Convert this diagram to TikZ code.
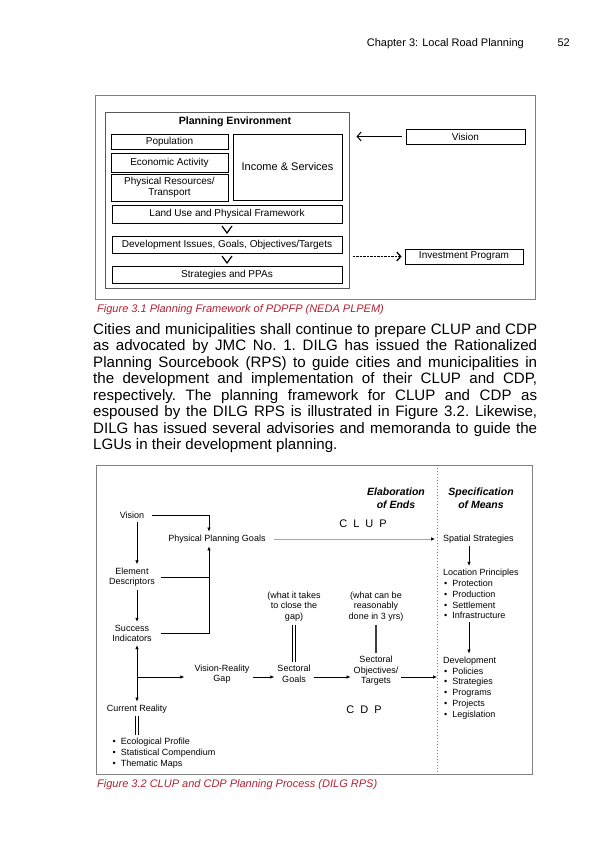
\documentclass[tikz,border=0pt]{standalone}
\usepackage{fontspec}
\setmainfont{Liberation Sans}
\usetikzlibrary{positioning,arrows.meta,calc}
\definecolor{capred}{RGB}{178,34,52}
\definecolor{framegray}{RGB}{128,128,128}
\newcommand{\fsize}[2]{\fontsize{#1pt}{#2pt}\selectfont}
\newcommand{\bul}{\hspace*{1pt}\textbullet\hspace*{5pt}}

\begin{document}
\begin{tikzpicture}[
    x=1pt, y=-1pt,
    every node/.style={inner sep=3pt},
    pbox/.style={
        rectangle, draw, line width=0.8pt, align=center,
        font=\fsize{10}{10.5}
    },
    flow/.style={font=\fsize{9}{10.6}, align=center},
    list/.style={font=\fsize{9}{10.8}, align=left, anchor=west},
    colhead/.style={font=\fsize{10.5}{13}\bfseries\itshape, align=center},
    spaced/.style={font=\fsize{11}{13}},
    arr/.style={-{Latex[length=4pt,width=3.5pt]}, line width=0.7pt},
    barb/.style={-{Straight Barb[length=4pt,width=9pt]}, line width=1pt},
    twin/.style={double, double distance=1.8pt, line width=0.7pt},
    figcap/.style={font=\fsize{11}{13}\itshape, text=capred, anchor=base west, inner sep=0}
]
\useasboundingbox (0,0) rectangle (600,850);
\fill[white] (0,0) rectangle (600,850);

% ── Running head ───────────────────────────────────────────
\node[anchor=base east, inner sep=0, font=\fsize{11}{13}] (chap) at (524,47) {Chapter 3: Local Road Planning};
\node[anchor=base east, inner sep=0, font=\fsize{11}{13}] (pnum) at (570,47) {52};

% ── Figure 3.1: planning framework ─────────────────────────
\node[draw=framegray, line width=0.8pt, minimum width=440pt, minimum height=204pt, inner sep=0] (fig1) at (315,197) {};
\node[draw=black!65, line width=1pt, minimum width=244pt, minimum height=175pt, inner sep=0] (envbox) at (227,200.5) {};
\node[font=\fsize{10.6}{12}\bfseries] (envtitle) at (235,122) {Planning Environment};

\node[pbox, minimum width=117pt, minimum height=14pt] (pop)     at (169.5,142)   {Population};
\node[pbox, minimum width=117pt, minimum height=19pt] (econ)    at (169.5,162.5) {Economic Activity};
\node[pbox, minimum width=117pt, minimum height=27pt] (physres) at (169.5,187.5) {Physical Resources/\\Transport};
\node[pbox, minimum width=109pt, minimum height=66pt, font=\fsize{11}{12}] (income) at (287.5,167) {Income \& Services};
\node[pbox, minimum width=230pt, minimum height=18pt] (landuse)   at (227,214)   {Land Use and Physical Framework};
\node[pbox, minimum width=230pt, minimum height=17pt] (devissues) at (227,244.5) {Development Issues, Goals, Objectives/Targets};
\node[pbox, minimum width=230pt, minimum height=17pt] (strat)     at (227,274.5) {Strategies and PPAs};

\node[pbox, minimum width=119pt, minimum height=15pt] (pvision) at (465.5,136.5) {Vision};
\node[pbox, minimum width=118pt, minimum height=15pt] (invest)  at (464,256.5)   {Investment Program};

% chevrons between the stacked boxes
\draw[line width=1.2pt] ($(landuse.south)!0.5!(devissues.north)$) ++(-5,-3.5) -- ++(5,7) -- ++(5,-7);
\draw[line width=1.2pt] ($(devissues.south)!0.5!(strat.north)$) ++(-5,-3.5) -- ++(5,7) -- ++(5,-7);

\draw[barb, shorten <=4pt, shorten >=7pt] (pvision.west) -- (pvision.west -| envbox.east);
\draw[barb, line width=1.3pt, dash pattern=on 2.5pt off 1pt, shorten <=3pt, shorten >=3pt] (invest.west -| envbox.east) -- (invest.west);

\node[figcap] (cap1) at (97,312) {Figure 3.1 Planning Framework of PDPFP (NEDA PLPEM)};

% ── Body text ──────────────────────────────────────────────
\node[anchor=base west, inner sep=0, text width=444pt, align=justify, font=\fsize{15.1}{16.43}\frenchspacing] (body) at (93,334.5) {%
Cities and municipalities shall continue to prepare CLUP and CDP\linebreak
as advocated by JMC No. 1. DILG has issued the Rationalized\linebreak
Planning Sourcebook (RPS) to guide cities and municipalities in\linebreak
the development and implementation of their CLUP and CDP,\linebreak
respectively. The planning framework for CLUP and CDP as\linebreak
espoused by the DILG RPS is illustrated in Figure 3.2. Likewise,\linebreak
DILG has issued several advisories and memoranda to guide the\linebreak
LGUs in their development planning.};

% ── Figure 3.2: CLUP and CDP process ───────────────────────
\def\xdiv{437}   % ends / means divider
\def\xcol{209}   % joint into Physical Planning Goals
\def\xmean{469}  % arrows in the means column
\def\yrow{677}   % CDP chain

\node[draw=framegray, line width=1pt, minimum width=436pt, minimum height=309pt, inner sep=0] (fig2) at (314,619.5) {};
\draw[gray, line width=0.6pt, dash pattern=on 1.5pt off 1.5pt] (fig2.north -| \xdiv,0) -- (fig2.south -| \xdiv,0);

\node[colhead] (elab) at (396,498.5) {Elaboration\\of Ends};
\node[colhead] (spec) at (481,498.5) {Specification\\of Means};
\node[spaced]  (clup) at (363,524)   {C\hspace{6pt}L\hspace{6pt}U\hspace{6pt}P};
\node[spaced]  (cdp)  at (364,710)   {C\hspace{6pt}D\hspace{6pt}P};

\node[flow] (vision) at (132,515)   {Vision};
\node[flow] (ppg)    at (217,539)   {Physical Planning Goals};
\node[flow] (elem)   at (132,577)   {Element\\Descriptors};
\node[flow] (succ)   at (132,633.5) {Success\\Indicators};
\node[flow] (curr)   at (137,709)   {Current Reality};
\node[list] (eco)    at (108.5,753) {\bul Ecological Profile\\\bul Statistical Compendium\\\bul Thematic Maps};

\node[flow] (gap)   at (222,674)   {Vision-Reality\\Gap};
\node[flow] (sgoal) at (294,674)   {Sectoral\\Goals};
\node[flow] (sobj)  at (376,671)   {Sectoral\\Objectives/\\Targets};
\node[flow] (take)  at (294,606.5) {(what it takes\\to close the\\gap)};
\node[flow] (reas)  at (376,606.5) {(what can be\\reasonably\\done in 3 yrs)};

\node[list] (spat) at (440,539) {Spatial Strategies};
\node[list] (loc)  at (440,594) {Location Principles\\\bul Protection\\\bul Production\\\bul Settlement\\\bul Infrastructure};
\node[list] (devl) at (440,688) {Development\\\bul Policies\\\bul Strategies\\\bul Programs\\\bul Projects\\\bul Legislation};

% left column
\draw[arr] (vision.south -| curr) -- (elem.north -| curr);
\draw[arr] (elem.south -| curr) -- (succ.north -| curr);
\draw[arr, shorten <=5pt] (vision.east) -| (\xcol,0 |- ppg.north);
\draw[line width=0.7pt, shorten <=3pt] (elem.east) -- (elem.east -| \xcol,0);
\draw[arr, shorten <=6pt] (succ.east) -| (\xcol,0 |- ppg.south);
\draw[{Latex[length=4pt,width=3.5pt]}-{Latex[length=4pt,width=3.5pt]}, line width=0.7pt] (succ.south -| curr) -- (curr.north);
\draw[twin] (curr.south) -- (curr.south |- eco.north);

% CLUP line
\draw[line width=0.7pt, draw=gray!70, -{Latex[length=4pt,width=3.5pt,color=black]}, shorten <=5pt, shorten >=2pt] (ppg.east) -- (ppg.east -| \xdiv,0);

% CDP chain
\draw[arr, shorten >=7pt] (curr |- 0,\yrow) -- (gap.west |- 0,\yrow);
\draw[arr] (gap.east |- 0,\yrow) -- (sgoal.west |- 0,\yrow);
\draw[arr] (sgoal.east |- 0,\yrow) -- (sobj.west |- 0,\yrow);
\draw[arr] (sobj.east |- 0,\yrow) -- (\xdiv,\yrow);
\draw[twin] (take.south) -- (sgoal.north);
\draw[line width=2.2pt, black!75] (reas.south) -- (sobj.north);

% means column
\draw[arr] (spat.south -| \xmean,0) -- (loc.north -| \xmean,0);
\draw[arr] (loc.south -| \xmean,0) -- (devl.north -| \xmean,0);

\node[figcap] (cap2) at (97,787) {Figure 3.2 CLUP and CDP Planning Process (DILG RPS)};

\end{tikzpicture}
\end{document}
